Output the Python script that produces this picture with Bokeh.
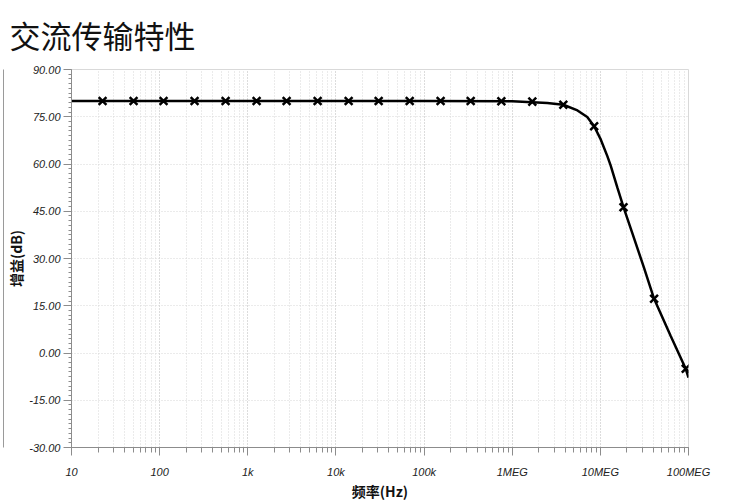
from bokeh.plotting import figure
from bokeh.models import (SingleIntervalTicker, LogTicker, LinearAxis,
                          PrintfTickFormatter, FixedTicker)
from bokeh.embed import file_html
from bokeh.resources import INLINE

# ---- data ----
curve_freq = [10, 100, 1e3, 1e4, 1e5, 1e6, 2.5e6, 3.8e6, 5.5e6, 7.1e6, 8.5e6,
              10.1e6, 12e6, 13.1e6, 15.6e6, 18.3e6, 23.1e6, 31.3e6, 40.7e6,
              63e6, 93e6, 100e6]
curve_gain = [80, 80, 80, 80, 80, 79.95, 79.4, 78.8, 77.0, 74.9, 72.0,
              67.8, 62.5, 59.5, 52.5, 46.3, 38.0, 27.0, 17.2,
              5.3, -5.0, -7.8]

marker_freq = [22.5, 50.6, 110.7, 249, 560, 1259, 2757, 6200, 13940, 30540,
               68700, 154000, 338000, 753000, 1.69e6, 3.8e6, 8.5e6, 18.3e6,
               40.7e6, 93e6]
marker_gain = [80, 80, 80, 80, 80, 80, 80, 80, 80, 80,
               80, 80, 80, 79.95, 79.8, 78.8, 72.0, 46.3, 17.2, -5.0]

x_ticks = [10, 100, 1000, 10000, 100000, 1000000, 10000000, 100000000]
x_tick_labels = ["10", "100", "1k", "10k", "100k", "1MEG", "10MEG", "100MEG"]

title_text = "交流传输特性"
x_label = "频率(Hz)"
y_label = "增益(dB)"

X_MIN, X_MAX = 10, 1e8
Y_MIN, Y_MAX = -30, 90

CJK = "Noto Sans CJK SC"
LAT = "Liberation Sans"

p = figure(width=724, height=503, x_axis_type="log",
           x_range=(X_MIN, X_MAX), y_range=(Y_MIN, Y_MAX),
           output_backend="svg", toolbar_location=None,
           min_border_left=71, min_border_right=36,
           min_border_top=69, min_border_bottom=56)
p.background_fill_color = "white"
p.border_fill_color = "white"
p.outline_line_color = "#d9d9d9"
p.outline_line_width = 1

# title
p.title.text = title_text
p.title.text_font = CJK
p.title.text_font_size = "31px"
p.title.text_font_style = "normal"
p.title.text_color = "#111111"
p.title.align = "left"
p.title.vertical_align = "top"
p.title.offset = -62
p.title.standoff = 22

# axes
xa = p.xaxis[0]
xa.ticker = LogTicker(num_minor_ticks=10)
xa.major_label_overrides = {t: l for t, l in zip(x_ticks, x_tick_labels)}
ya = p.yaxis[0]
ya.ticker = SingleIntervalTicker(interval=15, num_minor_ticks=10)
ya.formatter = PrintfTickFormatter(format="%.2f")

for ax in (xa, ya):
    ax.axis_line_color = "#8c8c8c"
    ax.major_tick_line_color = "#8c8c8c"
    ax.minor_tick_line_color = "#8c8c8c"
    ax.major_tick_in = 0
    ax.minor_tick_in = 0
    ax.major_tick_out = 8
    ax.major_label_text_font = LAT
    ax.major_label_text_font_style = "italic"
    ax.major_label_text_font_size = "11px"
    ax.major_label_text_color = "#222222"
    ax.axis_label_text_font = CJK
    ax.axis_label_text_font_size = "14px"
    ax.axis_label_text_font_style = "bold"
    ax.axis_label_text_color = "#111111"
xa.minor_tick_out = 5
ya.minor_tick_out = 3
xa.major_label_standoff = 10
ya.major_label_standoff = 3
xa.axis_label = x_label
ya.axis_label = y_label
xa.axis_label_standoff = 0
ya.axis_label_standoff = 0

# page border line at the far left (extra bare axis, no ticks, no labels)
edge = LinearAxis(ticker=FixedTicker(ticks=[]),
                  major_tick_out=0, minor_tick_out=0,
                  major_tick_in=0, minor_tick_in=0,
                  major_label_standoff=0, axis_label_standoff=0,
                  axis_line_color="#9a9a9a", axis_line_width=1)
p.add_layout(edge, "left")

# grids
p.xgrid.grid_line_color = "#d6d6d6"
p.xgrid.grid_line_dash = "1 2"
p.xgrid.minor_grid_line_color = "#d6d6d6"
p.xgrid.minor_grid_line_dash = "1 2"
p.ygrid.grid_line_color = "#d6d6d6"
p.ygrid.grid_line_dash = "1 2"

# data
p.line(curve_freq, curve_gain, line_color="black", line_width=2.5)
p.scatter(marker_freq, marker_gain, marker="x", size=11,
          line_color="black", line_width=2.5)

open("out.html", "w").write(file_html(p, INLINE))
